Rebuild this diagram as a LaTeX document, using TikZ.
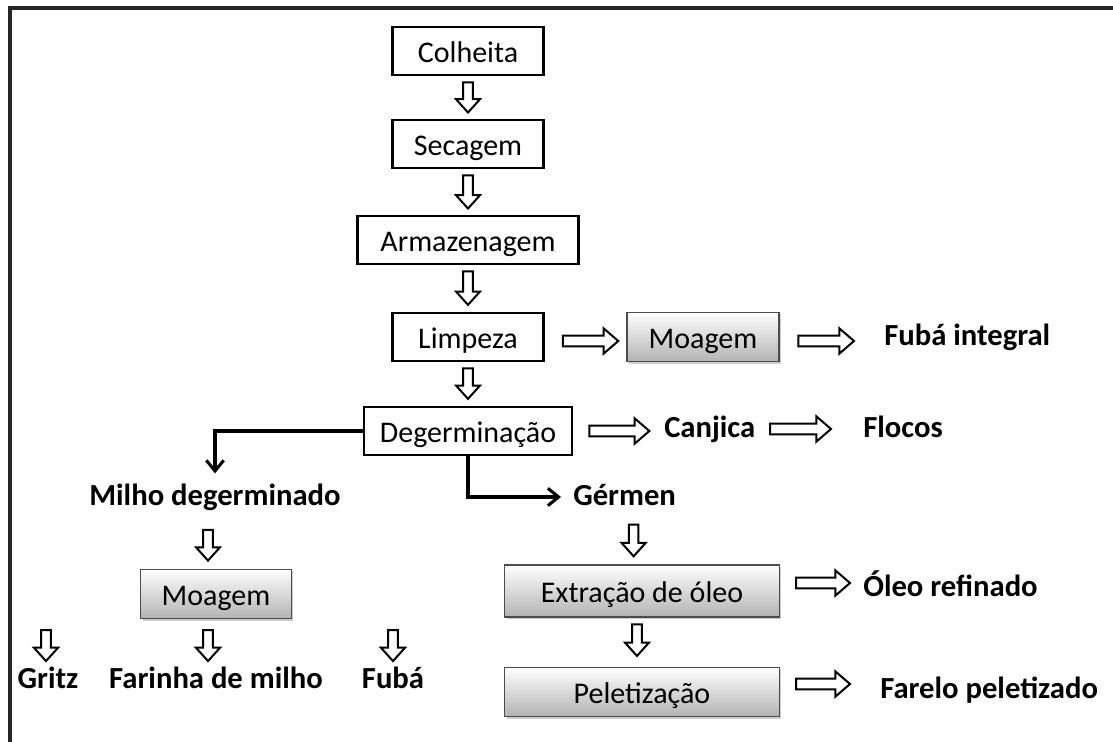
\documentclass[tikz,border=0pt]{standalone}
\usepackage{fontspec}
\setmainfont{Carlito}
\usepackage{tikz}
\usetikzlibrary{calc,positioning,shadows,arrows.meta}

\begin{document}
\begin{tikzpicture}[x=0.75pt, y=-0.75pt,
  stepbox/.style={draw=black, line width=2.2pt, fill=white, minimum height=36pt,
    inner sep=0pt, text height=20pt, text depth=2.5pt, font=\fontsize{22.5}{26}\selectfont},
  graybox/.style={draw=black!70, line width=1.1pt, top color=white, bottom color=black!30,
    minimum height=37pt, inner sep=0pt, text height=20pt, text depth=2.5pt,
    font=\fontsize{22.5}{26}\selectfont,
    drop shadow={shadow xshift=1.5pt, shadow yshift=-1.5pt, opacity=0.4}},
  lbl/.style={inner sep=0pt, text height=13pt, text depth=0pt,
    font=\fontsize{23}{27}\selectfont\bfseries},
  darrow/.style={draw=black, fill=white, line width=1.5pt, line join=miter, to path={
    let \p1=(\tikztostart), \p2=(\tikztotarget) in
    (\x1-3.6pt,\y1) -- (\x1-3.6pt,\y2+10pt) -- (\x1-9pt,\y2+10pt) -- (\x1,\y2)
    -- (\x1+9pt,\y2+10pt) -- (\x1+3.6pt,\y2+10pt) -- (\x1+3.6pt,\y1) -- cycle}},
  rarrow/.style={draw=black, fill=white, line width=1.5pt, line join=miter, to path={
    let \p1=(\tikztostart), \p2=(\tikztotarget) in
    (\x1,\y1+4pt) -- (\x2-11pt,\y1+4pt) -- (\x2-11pt,\y1+9.5pt) -- (\x2,\y1)
    -- (\x2-11pt,\y1-9.5pt) -- (\x2-11pt,\y1-4pt) -- (\x1,\y1-4pt) -- cycle}},
  elb/.style={line width=2.3pt, -{Straight Barb[length=8pt, width=13pt, line width=2.3pt]}}]
\useasboundingbox (0,0) rectangle (1113,742);
% --- Frame ---
\draw[line width=2.4pt, black!85] (8,8) -- (1113,8);
\draw[line width=2.4pt, black!85] (10,8) -- (10,742);

% --- Main column ---
\node[stepbox, minimum width=113pt] (colh) at (468,51) {Colheita};
\node[stepbox, minimum width=113pt] (seca) at (468,144) {Secagem};
\node[stepbox, minimum width=166pt] (arma) at (468,240) {Armazenagem};
\node[stepbox, minimum width=113pt] (limp) at (468,337) {Limpeza};
\node[stepbox, minimum width=156pt] (deger) at (468,431) {Degerminação};
\draw[darrow] ([yshift=-4.5pt]colh.south) to ([yshift=4.5pt]seca.north);
\draw[darrow] ([yshift=-4.5pt]seca.south) to ([yshift=4.5pt]arma.north);
\draw[darrow] ([yshift=-4.5pt]arma.south) to ([yshift=5pt]limp.north);
\draw[darrow] ([yshift=-4.5pt]limp.south) to ([yshift=5pt]deger.north);

% --- Whole grain branch ---
\node[graybox, minimum width=114pt] (moag) at (703,337) {Moagem};
\node[lbl, anchor=west] (fubai) at (884,337) {Fubá integral};
\draw[rarrow] ([xshift=13.5pt, yshift=-3pt]limp.east) to ([xshift=-6pt]moag.west);
\draw[rarrow] ([xshift=14pt, yshift=-3pt]moag.east) to ([xshift=-22.5pt]fubai.west);

% --- Canjica branch ---
\node[lbl, anchor=west] (canj) at (664,429) {Canjica};
\node[lbl, anchor=west] (floc) at (863,429) {Flocos};
\draw[rarrow] ([xshift=12pt]deger.east) to ([xshift=-11pt]canj.west);
\draw[rarrow] ([xshift=11pt]canj.east) to ([xshift=-24pt]floc.west);

% --- Degermed corn branch ---
\node[lbl] (milho) at (215,497) {Milho degerminado};
\draw[elb] (deger.west) -| ([yshift=11pt]milho.north);
\node[graybox, minimum width=113pt] (moagb) at (216,594) {Moagem};
\draw[darrow] ([xshift=-5.25pt, yshift=-18pt]milho.south) to ([yshift=6pt]moagb.north);
\node[lbl] (gritz) at (48,680) {Gritz};
\node[lbl] (farin) at (216,680) {Farinha de milho};
\node[lbl] (fuba) at (393,680) {Fubá};
\coordinate (gr0) at (46,630);
\coordinate (fu0) at (393,630);
\draw[darrow] (gr0) to ([yshift=7.5pt]gritz.north);
\draw[darrow] ([xshift=-6pt, yshift=-8pt]moagb.south) to ([yshift=7.5pt]farin.north);
\draw[darrow] (fu0) to ([yshift=7.5pt]fuba.north);

% --- Germ branch ---
\node[lbl, anchor=west] (germ) at (573,497) {Gérmen};
\draw[elb] (deger.south) |- ([xshift=-9pt]germ.west);
\node[graybox, minimum width=206pt, minimum height=39pt] (extr) at (642,591) {Extração de óleo};
\node[graybox, minimum width=206pt] (pelet) at (642,692) {Peletização};
\node[lbl, anchor=west] (oleo) at (863,588) {Óleo refinado};
\node[lbl, anchor=west] (farel) at (880,690) {Farelo peletizado};
\draw[darrow] ([xshift=6.75pt, yshift=-14pt]germ.south) to ([yshift=6pt]extr.north);
\draw[darrow] ([xshift=-3.75pt, yshift=-5pt]extr.south) to ([yshift=8pt]pelet.north);
\draw[rarrow] ([xshift=12pt, yshift=6pt]extr.east) to ([xshift=-9.75pt]oleo.west);
\draw[rarrow] ([xshift=12pt, yshift=6pt]pelet.east) to ([xshift=-22.5pt]farel.west);
\end{tikzpicture}
\end{document}
